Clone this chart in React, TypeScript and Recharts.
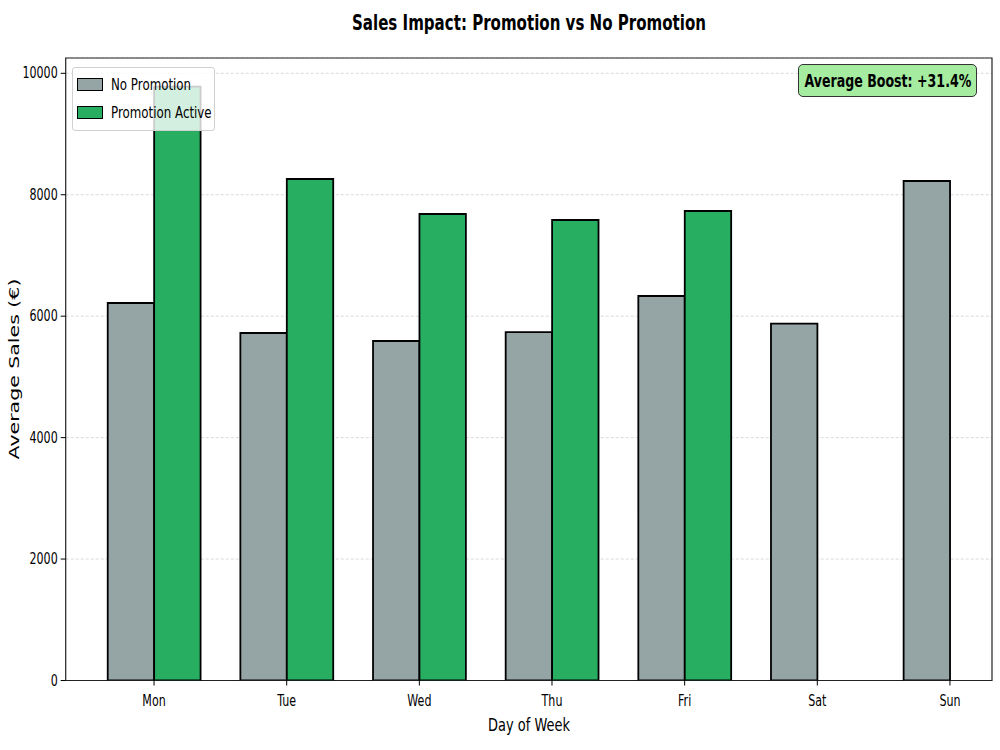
import React from 'react';
import { ComposedChart, Bar, XAxis, YAxis, CartesianGrid, ReferenceArea } from 'recharts';

// Average daily sales by weekday, with and without a running promotion
const days = ['Mon', 'Tue', 'Wed', 'Thu', 'Fri', 'Sat', 'Sun'];
const salesNoPromo = [6217, 5723, 5591, 5739, 6332, 5876, 8226];
const salesPromo: (number | null)[] = [9780, 8259, 7683, 7584, 7732, null, null];
const yTicks = [0, 2000, 4000, 6000, 8000, 10000];
const seriesNames = ['No Promotion', 'Promotion Active'];
const boostLabel = 'Average Boost: +31.4%';

const GREY = '#95a5a6';
const GREEN = '#27ae60';
const FONT = '"DejaVu Sans", sans-serif';
const SX = 0.74; // narrow glyph width

const X_DOMAIN: [number, number] = [-0.666, 6.317];
const Y_DOMAIN: [number, number] = [0, 10252];

const data = days.map((day, i) => ({
  pos: i,
  day,
  noPromo: salesNoPromo[i],
  promo: salesPromo[i],
}));

const W = 1000;
const H = 750;
const PLOT_LEFT = 65.7;
const PLOT_RIGHT = 992;
const PLOT_TOP = 58;
const PLOT_BOTTOM = 680.5;

const YTick = (p: any) => (
  <g transform={`translate(${p.x},${p.y})`}>
    <text
      transform={`scale(${SX},1)`}
      textAnchor="end"
      dominantBaseline="central"
      fontSize={15}
      fontFamily={FONT}
      fill="#000"
    >
      {p.payload.value}
    </text>
  </g>
);

const XTick = (p: any) => (
  <g transform={`translate(${p.x},${p.y})`}>
    <text
      transform={`scale(${SX},1)`}
      textAnchor="middle"
      dominantBaseline="hanging"
      fontSize={15}
      fontFamily={FONT}
      fill="#000"
    >
      {days[p.payload.value]}
    </text>
  </g>
);

const scaledText = (extra: React.CSSProperties): React.CSSProperties => ({
  position: 'absolute',
  whiteSpace: 'nowrap',
  fontFamily: FONT,
  color: '#000',
  lineHeight: 1,
  ...extra,
});

const Swatch = ({ color }: { color: string }) => (
  <div
    style={{
      width: 24,
      height: 11,
      background: color,
      border: '1.5px solid #000',
      marginRight: 8,
      flex: 'none',
    }}
  />
);

export default function App() {
  const bandPx = (PLOT_RIGHT - PLOT_LEFT) / (X_DOMAIN[1] - X_DOMAIN[0]);
  const barSize = bandPx * 0.35;

  return (
    <div style={{ position: 'absolute', left: 0, top: 0, width: W, height: H, background: '#fff' }}>
      <ComposedChart
        width={W}
        height={H}
        data={data}
        margin={{ top: PLOT_TOP, right: W - PLOT_RIGHT, bottom: 0, left: 0 }}
        barGap={0}
        barCategoryGap={0}
      >
        <CartesianGrid vertical={false} stroke="#d9d9d9" strokeDasharray="3 2" />
        <XAxis
          type="number"
          dataKey="pos"
          domain={X_DOMAIN}
          ticks={[0, 1, 2, 3, 4, 5, 6]}
          allowDataOverflow
          height={H - PLOT_BOTTOM}
          axisLine={false}
          tickLine={{ stroke: '#000', strokeWidth: 1 }}
          tickSize={5}
          tickMargin={10}
          tick={<XTick />}
          interval={0}
        />
        <YAxis
          type="number"
          domain={Y_DOMAIN}
          ticks={yTicks}
          allowDataOverflow
          width={PLOT_LEFT}
          axisLine={false}
          tickLine={{ stroke: '#000', strokeWidth: 1 }}
          tickSize={5}
          tickMargin={3}
          tick={<YTick />}
          interval={0}
        />
        <Bar
          dataKey="noPromo"
          name={seriesNames[0]}
          fill={GREY}
          stroke="#000"
          strokeWidth={1.8}
          barSize={barSize}
          isAnimationActive={false}
        />
        <Bar
          dataKey="promo"
          name={seriesNames[1]}
          fill={GREEN}
          stroke="#000"
          strokeWidth={1.8}
          barSize={barSize}
          isAnimationActive={false}
        />
        <ReferenceArea
          x1={X_DOMAIN[0]}
          x2={X_DOMAIN[1]}
          y1={Y_DOMAIN[0]}
          y2={Y_DOMAIN[1]}
          fill="none"
          stroke="#222"
          strokeWidth={1.2}
          ifOverflow="visible"
        />
      </ComposedChart>

      {/* title */}
      <div
        style={scaledText({
          left: (PLOT_LEFT + PLOT_RIGHT) / 2,
          top: 12,
          fontSize: 21.5,
          fontWeight: 'bold',
          transform: `translateX(-50%) scaleX(0.70)`,
        })}
      >
        Sales Impact: Promotion vs No Promotion
      </div>

      {/* x axis label */}
      <div
        style={scaledText({
          left: (PLOT_LEFT + PLOT_RIGHT) / 2,
          top: 717,
          fontSize: 17.5,
          transform: `translateX(-50%) scaleX(${SX})`,
        })}
      >
        Day of Week
      </div>

      {/* y axis label */}
      <div
        style={scaledText({
          left: 14,
          top: (PLOT_TOP + PLOT_BOTTOM) / 2,
          fontSize: 20.5,
          transform: `translate(-50%, -50%) scaleX(0.67) rotate(-90deg)`,
        })}
      >
        Average Sales (€)
      </div>

      {/* legend */}
      <div
        style={{
          position: 'absolute',
          left: 72,
          top: 67,
          width: 143,
          height: 64,
          boxSizing: 'border-box',
          background: 'rgba(255,255,255,0.8)',
          border: '1px solid #d0d0d0',
          borderRadius: 3,
          padding: '2px 0 0 4px',
        }}
      >
        {[GREY, GREEN].map((c, i) => (
          <div key={i} style={{ display: 'flex', alignItems: 'center', height: 28.5 }}>
            <Swatch color={c} />
            <div
              style={{
                fontFamily: FONT,
                fontSize: 16,
                whiteSpace: 'nowrap',
                transform: `scaleX(${SX})`,
                transformOrigin: 'left center',
              }}
            >
              {seriesNames[i]}
            </div>
          </div>
        ))}
      </div>

      {/* boost annotation */}
      <div
        style={{
          position: 'absolute',
          left: 798,
          top: 64,
          width: 179,
          height: 33,
          boxSizing: 'border-box',
          background: '#a6eca0',
          border: '1.2px solid #333',
          borderRadius: 5,
          display: 'flex',
          alignItems: 'center',
          justifyContent: 'center',
        }}
      >
        <div
          style={{
            fontFamily: FONT,
            fontSize: 17.5,
            fontWeight: 'bold',
            whiteSpace: 'nowrap',
            transform: `scaleX(0.72)`,
          }}
        >
          {boostLabel}
        </div>
      </div>
    </div>
  );
}
